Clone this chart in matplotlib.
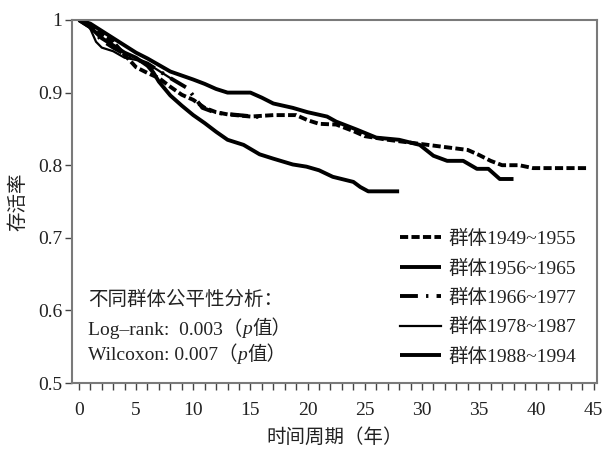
import matplotlib
matplotlib.use("Agg")
import matplotlib.pyplot as plt

plt.rcParams['font.family'] = ['Liberation Serif', 'Noto Sans CJK SC']

# ---- data ----
labels = ["群体1949~1955", "群体1956~1965", "群体1966~1977", "群体1978~1987", "群体1988~1994"]

t_1949 = [0, 0.5, 1, 2, 3, 4, 5, 6, 7, 8, 9, 10, 11, 12, 13, 15, 17, 19, 20, 21, 22.5, 24, 25, 27, 29, 31.5, 34, 35, 36, 37, 38.5, 39.7, 44.5]
s_1949 = [1, 1, 0.99, 0.98, 0.97, 0.952, 0.935, 0.927, 0.92, 0.908, 0.897, 0.89, 0.879, 0.873, 0.87, 0.867, 0.869, 0.869, 0.862, 0.857, 0.856, 0.847, 0.84, 0.835, 0.831, 0.826, 0.821, 0.814, 0.806, 0.80, 0.80, 0.796, 0.796]

t_1956 = [0, 1, 2, 3, 4, 5, 6, 7, 8, 10, 11, 12, 13, 15, 16, 17, 18.7, 20, 21.7, 22.5, 24.3, 26, 28, 29.8, 31, 32.2, 33.6, 34.8, 35.8, 36.8, 38]
s_1956 = [1, 0.995, 0.985, 0.975, 0.965, 0.955, 0.947, 0.938, 0.929, 0.918, 0.912, 0.905, 0.90, 0.90, 0.893, 0.885, 0.879, 0.873, 0.867, 0.86, 0.849, 0.838, 0.835, 0.828, 0.813, 0.806, 0.806, 0.795, 0.795, 0.781, 0.781]

t_1966 = [0, 1, 2, 3, 4, 5, 6, 7, 8, 9.5, 10.8, 12, 14, 16]
s_1966 = [1, 0.99, 0.972, 0.962, 0.953, 0.946, 0.94, 0.93, 0.92, 0.906, 0.879, 0.872, 0.869, 0.866]

t_1978 = [0, 0.8, 1.5, 2, 3, 4, 5, 6, 7, 8]
s_1978 = [1, 0.995, 0.97, 0.962, 0.957, 0.948, 0.945, 0.94, 0.93, 0.92]

t_1988 = [0, 1, 2, 3, 4, 5, 6, 6.5, 7, 8, 9, 10, 11, 12, 13, 14.4, 15.8, 17, 18.7, 19.9, 21, 22.2, 24, 24.6, 25.3, 28]
s_1988 = [1, 0.99, 0.975, 0.965, 0.955, 0.948, 0.937, 0.928, 0.915, 0.896, 0.882, 0.869, 0.858, 0.846, 0.835, 0.828, 0.815, 0.809, 0.801, 0.798, 0.793, 0.784, 0.777, 0.770, 0.764, 0.764]

x_ticks = [0, 5, 10, 15, 20, 25, 30, 35, 40, 45]
y_ticks = [0.5, 0.6, 0.7, 0.8, 0.9, 1.0]
y_ticklabels = ["0.5", "0.6", "0.7", "0.8", "0.9", "1"]

FS = 14
TXT = '#222222'

# ---- figure ----
fig = plt.figure(figsize=(6.03, 4.49), dpi=100)
ax = fig.add_axes([72/603, 1-383/449, (597-72)/603, (383-20)/449])

thick = 2.8
ax.plot(t_1949, s_1949, color='black', lw=thick, dashes=(2.1, 0.85), label=labels[0])
ax.plot(t_1956, s_1956, color='black', lw=thick, solid_capstyle='butt', label=labels[1])
ax.plot(t_1966, s_1966, color='black', lw=thick, dashes=(4.6, 2.1, 0.6, 2.1), label=labels[2])
ax.plot(t_1978, s_1978, color='black', lw=1.6, label=labels[3])
ax.plot(t_1988, s_1988, color='black', lw=thick, solid_capstyle='butt', label=labels[4])

ax.set_xlim(-0.6, 45.3)
ax.set_ylim(0.5, 1.0)
ax.set_xticks(x_ticks)
ax.set_xticks(range(0, 46), minor=True)
ax.set_yticks(y_ticks)
ax.set_yticklabels(y_ticklabels)

for sp in ax.spines.values():
    sp.set_color('#7a7a7a')
    sp.set_linewidth(1.5)

ax.tick_params(axis='both', which='both', direction='out', color='#444444', width=1.0, labelsize=FS, labelcolor=TXT)
ax.tick_params(axis='x', which='both', length=5, pad=9)
ax.tick_params(axis='y', which='major', length=5, pad=2)

ax.set_xlabel("时间周期（年）", fontsize=FS, color=TXT, labelpad=6)
ax.set_ylabel("存活率", fontsize=FS, color=TXT, labelpad=8)

leg = ax.legend(loc='upper left', bbox_to_anchor=(400/603, 1-230/449), bbox_transform=fig.transFigure,
                frameon=False, fontsize=FS, handlelength=2.1, handletextpad=0.4,
                labelspacing=0.58, borderpad=0.0, borderaxespad=0.0)
for txt in leg.get_texts():
    txt.set_color(TXT)

# annotation block, placed piece by piece so the italic p keeps CJK fallback for the rest
fig.canvas.draw()
renderer = fig.canvas.get_renderer()


def text_run(x_px, y_px, pieces):
    x = x_px / 603
    for s, style in pieces:
        t = fig.text(x, 1 - y_px / 449, s, fontsize=FS, color=TXT, va='center', ha='left', fontstyle=style)
        bb = t.get_window_extent(renderer)
        x = bb.x1 / fig.bbox.width


text_run(88, 300, [("不同群体公平性分析：", 'normal')])
text_run(88, 329, [("Log–rank:  0.003（", 'normal'), ("p", 'italic'), ("值）", 'normal')])
text_run(88, 355, [("Wilcoxon: 0.007（", 'normal'), ("p", 'italic'), ("值）", 'normal')])

fig.savefig("out.png", dpi=100)
